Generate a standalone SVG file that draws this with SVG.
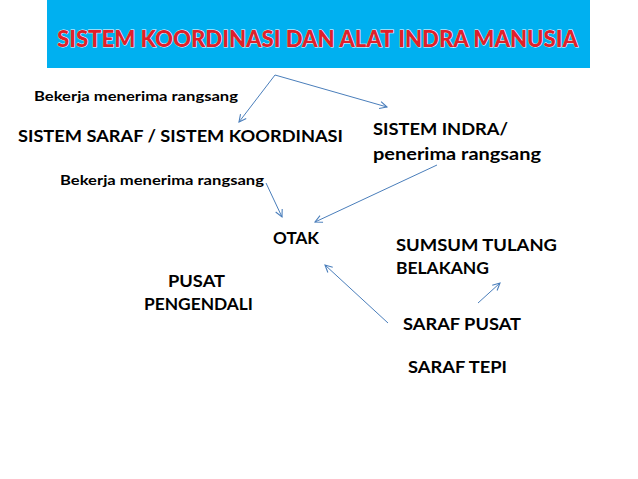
<svg xmlns="http://www.w3.org/2000/svg" width="638" height="479" viewBox="0 0 638 479">
<defs>
<marker id="arr" viewBox="0 0 10 10" refX="9" refY="5" markerWidth="9" markerHeight="9" markerUnits="userSpaceOnUse" orient="auto">
<path d="M1,1 L9,5 L1,9" fill="none" stroke="#4a7ebb" stroke-width="1.2"/>
</marker>
</defs>
<style>
text{font-family:Lato,"Open Sans","Liberation Sans",sans-serif;font-weight:bold;fill:#000}
.s{font-size:13.5px}
.m{font-size:17px}
.c line{stroke:#4a7ebb;stroke-width:1;marker-end:url(#arr)}
.title{font-size:22px;font-weight:900;fill:#e0202a;stroke:#fff;stroke-width:0.8;paint-order:stroke}
</style>
<rect width="638" height="479" fill="#fff"/>
<g id="title">
<rect x="47" y="0" width="543" height="68" fill="#00b0f0"/>
<text class="title" x="57" y="47" textLength="521" lengthAdjust="spacingAndGlyphs">SISTEM KOORDINASI DAN ALAT INDRA MANUSIA</text>
</g>
<g id="lbl1"><text class="s" x="34" y="101" textLength="204" lengthAdjust="spacingAndGlyphs">Bekerja menerima rangsang</text></g>
<g id="saraf"><text class="m" x="18" y="142" textLength="325" lengthAdjust="spacingAndGlyphs">SISTEM SARAF / SISTEM KOORDINASI</text></g>
<g id="indra">
<text class="m" x="373" y="135" textLength="135" lengthAdjust="spacingAndGlyphs">SISTEM INDRA/</text>
<text class="m" x="373" y="160" textLength="168" lengthAdjust="spacingAndGlyphs">penerima rangsang</text>
</g>
<g id="lbl2"><text class="s" x="60" y="185" textLength="204" lengthAdjust="spacingAndGlyphs">Bekerja menerima rangsang</text></g>
<g id="otak"><text class="m" x="273" y="244" textLength="46" lengthAdjust="spacingAndGlyphs">OTAK</text></g>
<g id="sumsum">
<text class="m" x="396" y="251" textLength="161" lengthAdjust="spacingAndGlyphs">SUMSUM TULANG</text>
<text class="m" x="396" y="274" textLength="93" lengthAdjust="spacingAndGlyphs">BELAKANG</text>
</g>
<g id="pusat">
<text class="m" x="168" y="287" textLength="57" lengthAdjust="spacingAndGlyphs">PUSAT</text>
<text class="m" x="144" y="310" textLength="109" lengthAdjust="spacingAndGlyphs">PENGENDALI</text>
</g>
<g id="sarafpusat"><text class="m" x="403" y="330" textLength="118" lengthAdjust="spacingAndGlyphs">SARAF PUSAT</text></g>
<g id="saraftepi"><text class="m" x="408" y="373" textLength="99" lengthAdjust="spacingAndGlyphs">SARAF TEPI</text></g>
<g id="connectors" class="c">
<line x1="275" y1="75" x2="239" y2="122"/>
<line x1="275" y1="75" x2="387" y2="107"/>
<line x1="266" y1="183" x2="282" y2="217"/>
<line x1="437" y1="165" x2="315" y2="222"/>
<line x1="388" y1="323" x2="325" y2="265"/>
<line x1="478" y1="303" x2="500" y2="283"/>
</g>
</svg>
